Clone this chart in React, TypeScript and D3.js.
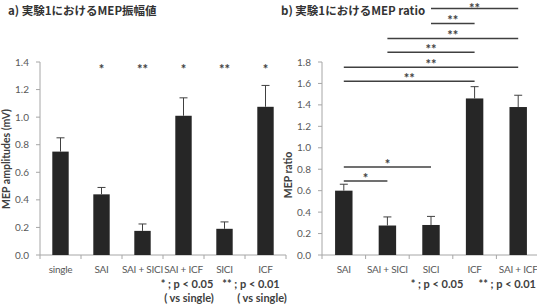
import React from 'react';
import * as d3 from 'd3';

// panel a: MEP amplitudes per condition
const ampCategories = ['single', 'SAI', 'SAI + SICI', 'SAI + ICF', 'SICI', 'ICF'];
const ampMeans = [0.75, 0.44, 0.175, 1.01, 0.19, 1.075];
const ampErrors = [0.1, 0.05, 0.05, 0.13, 0.05, 0.155];
const ampStars = ['', '*', '**', '*', '**', '*'];
const ampTicks = [0, 0.2, 0.4, 0.6, 0.8, 1.0, 1.2, 1.4];

// panel b: MEP ratio per condition
const ratioCategories = ['SAI', 'SAI + SICI', 'SICI', 'ICF', 'SAI + ICF'];
const ratioMeans = [0.6, 0.275, 0.28, 1.46, 1.38];
const ratioErrors = [0.06, 0.08, 0.08, 0.11, 0.11];
const ratioTicks = [0, 0.2, 0.4, 0.6, 0.8, 1.0, 1.2, 1.4, 1.6, 1.8];
// comparison brackets: [from, to, level, label]
const ratioBrackets: [string, string, number, string][] = [
  ['SAI', 'SAI + SICI', 0.69, '*'],
  ['SAI', 'SICI', 0.82, '*'],
  ['SAI', 'ICF', 1.62, '**'],
  ['SAI', 'SAI + ICF', 1.75, '**'],
  ['SAI + SICI', 'ICF', 1.89, '**'],
  ['SAI + SICI', 'SAI + ICF', 2.02, '**'],
  ['SICI', 'ICF', 2.16, '**'],
  ['SICI', 'SAI + ICF', 2.3, '**'],
];

const BAR = '#262626';
const INK = '#404040';
const AXIS = '#a6a6a6';
const LABEL = '#595959';
const FONT = 'Lato, "Open Sans", sans-serif';
const JP = '"Noto Sans CJK JP", sans-serif';

function BarPanel(props: {
  cats: string[];
  means: number[];
  errs: number[];
  ticks: number[];
  x0: number;
  x1: number;
  yMax: number;
  yTop: number;
  yBottom: number;
}) {
  const { cats, means, errs, ticks, x0, x1, yMax, yTop, yBottom } = props;
  const x = d3.scaleBand().domain(cats).range([x0, x1]).paddingInner(0.6).paddingOuter(0.3);
  const y = d3.scaleLinear().domain([0, yMax]).range([yBottom, yTop]);
  const bw = x.bandwidth();
  const edges = d3.range(cats.length + 1).map((i) => x0 + i * ((x1 - x0) / cats.length));
  return (
    <g>
      {/* y axis */}
      <line x1={x0} x2={x0} y1={y(yMax)} y2={y(0)} stroke={AXIS} />
      {ticks.map((t) => (
        <g key={t}>
          <line x1={x0 - 4} x2={x0} y1={y(t)} y2={y(t)} stroke={AXIS} />
          <text x={x0 - 11} y={y(t)} dy="0.35em" textAnchor="end" fontSize={10} fill={LABEL} fontFamily={FONT}>
            {d3.format('.1f')(t)}
          </text>
        </g>
      ))}
      {/* x axis */}
      <line x1={x0} x2={x1} y1={y(0)} y2={y(0)} stroke={AXIS} />
      {edges.map((e, i) => (
        <line key={i} x1={e} x2={e} y1={y(0)} y2={y(0) + 4} stroke={AXIS} />
      ))}
      {cats.map((c, i) => {
        const cx = (x(c) as number) + bw / 2;
        const top = y(means[i] + errs[i]);
        return (
          <g key={c}>
            <rect x={x(c)} y={y(means[i])} width={bw} height={y(0) - y(means[i])} fill={BAR} />
            <line x1={cx} x2={cx} y1={y(means[i])} y2={top} stroke={INK} strokeWidth={1} />
            <line x1={cx - 4} x2={cx + 4} y1={top} y2={top} stroke={INK} strokeWidth={1} />
            <text
              x={cx}
              y={y(0) + 18}
              textAnchor="middle"
              fontSize={10}
              letterSpacing={-0.25}
              fill={LABEL}
              fontFamily={FONT}
            >
              {c}
            </text>
          </g>
        );
      })}
    </g>
  );
}

export default function App() {
  const ampY = d3.scaleLinear().domain([0, 1.4]).range([255, 62]);
  const ampX = d3.scaleBand().domain(ampCategories).range([40, 286]).paddingInner(0.6).paddingOuter(0.3);

  const ratioY = d3.scaleLinear().domain([0, 1.8]).range([255, 62]);
  const ratioX = d3.scaleBand().domain(ratioCategories).range([322, 540]).paddingInner(0.6).paddingOuter(0.3);
  const rc = (c: string) => (ratioX(c) as number) + ratioX.bandwidth() / 2;

  const bold = { fontFamily: FONT, fontWeight: 700, fontSize: 11, fill: INK } as const;

  return (
    <svg
      width={537}
      height={307}
      style={{ position: 'absolute', left: 0, top: 0, background: '#fff' }}
    >
      {/* titles */}
      <text x={8} y={15} fontFamily={JP} fontWeight={700} fontSize={11.5} fill="#333">
        a) 実験1におけるMEP振幅値
      </text>
      <text x={281} y={15} fontFamily={JP} fontWeight={700} fontSize={11.5} fill="#333">
        b) 実験1におけるMEP ratio
      </text>

      {/* panel a */}
      <BarPanel
        cats={ampCategories}
        means={ampMeans}
        errs={ampErrors}
        ticks={ampTicks}
        x0={40}
        x1={286}
        yMax={1.4}
        yTop={62}
        yBottom={255}
      />
      {ampCategories.map((c, i) =>
        ampStars[i] ? (
          <text
            key={c}
            x={(ampX(c) as number) + ampX.bandwidth() / 2}
            y={ampY(1.4) + 12}
            textAnchor="middle"
            fontSize={13}
            fontWeight={700}
            fill={INK}
            fontFamily={FONT}
          >
            {ampStars[i]}
          </text>
        ) : null
      )}
      <text transform="translate(10,159) rotate(-90)" textAnchor="middle" {...bold} fontSize={10.5}>
        MEP amplitudes (mV)
      </text>
      <text x={187} y={288} textAnchor="middle" {...bold}>* ; p &lt; 0.05</text>
      <text x={189} y={302} textAnchor="middle" {...bold}>( vs single)</text>
      <text x={251} y={288} textAnchor="middle" {...bold}>** ; p &lt; 0.01</text>
      <text x={262} y={302} textAnchor="middle" {...bold}>( vs single)</text>

      {/* panel b */}
      <BarPanel
        cats={ratioCategories}
        means={ratioMeans}
        errs={ratioErrors}
        ticks={ratioTicks}
        x0={322}
        x1={540}
        yMax={1.8}
        yTop={62}
        yBottom={255}
      />
      {ratioBrackets.map(([a, b, lv, s], i) => (
        <g key={i}>
          <line x1={rc(a)} x2={rc(b)} y1={ratioY(lv)} y2={ratioY(lv)} stroke={INK} strokeWidth={1.5} />
          <text
            x={(rc(a) + rc(b)) / 2}
            y={Math.max(ratioY(lv) + 2, 13)}
            textAnchor="middle"
            fontSize={13}
            fontWeight={700}
            fill={INK}
            fontFamily={FONT}
          >
            {s}
          </text>
        </g>
      ))}
      <text transform="translate(292,175) rotate(-90)" textAnchor="middle" {...bold} fontSize={10.5}>
        MEP ratio
      </text>
      <text x={437} y={288} textAnchor="middle" {...bold}>* ; p &lt; 0.05</text>
      <text x={536} y={288} textAnchor="end" {...bold}>** ; p &lt; 0.01</text>
    </svg>
  );
}
